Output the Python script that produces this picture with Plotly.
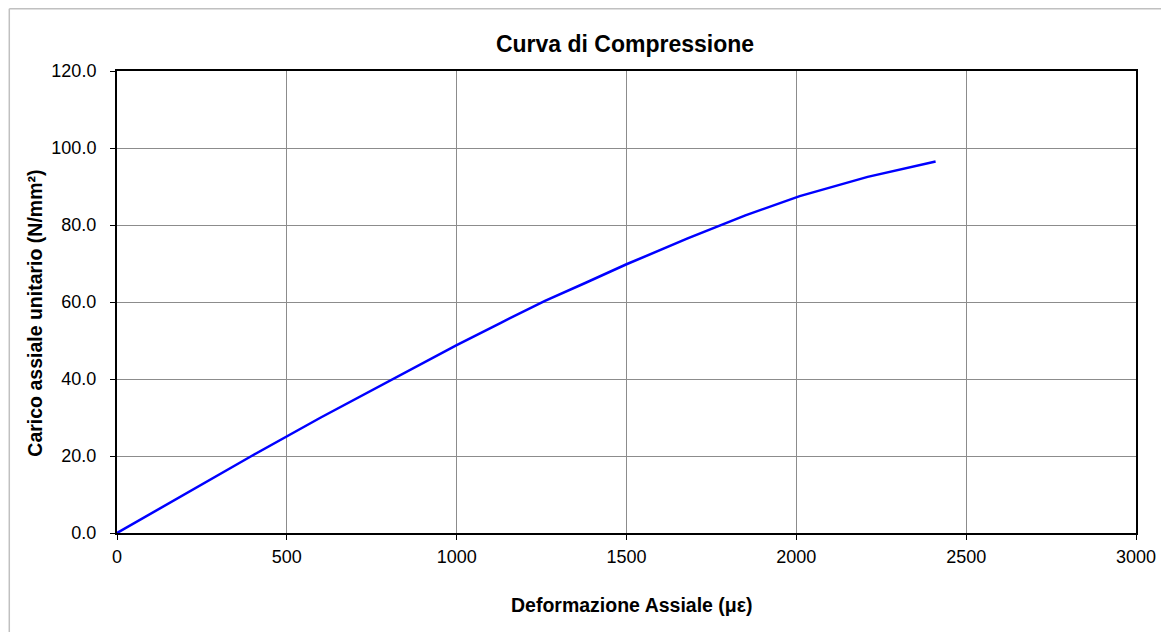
import plotly.graph_objects as go

# strain (microstrain) and stress (N/mm²)
deformazione = [0, 200, 400, 600, 800, 1000, 1130, 1260, 1380, 1500,
                1680, 1850, 2010, 2210, 2410]
carico = [0.0, 10.2, 20.2, 30.0, 39.4, 48.8, 54.6, 60.3, 65.0, 69.8,
          76.5, 82.5, 87.5, 92.5, 96.5]

x_ticks = [0, 500, 1000, 1500, 2000, 2500, 3000]
y_ticks = [0, 20, 40, 60, 80, 100, 120]

font_family = "Liberation Sans, Arial, sans-serif"

fig = go.Figure()

fig.add_trace(go.Scatter(
    x=deformazione,
    y=carico,
    mode="lines",
    line=dict(color="#0000ff", width=2.5),
    showlegend=False
))

axis_common = dict(
    showline=True,
    linecolor="black",
    linewidth=2,
    mirror=True,
    showgrid=True,
    gridcolor="#8c8c8c",
    gridwidth=1,
    zeroline=False,
    automargin=False,
    ticks="outside",
    ticklen=5,
    tickcolor="black",
    tickfont=dict(family=font_family, size=18, color="black"),
)

fig.update_xaxes(range=[0, 3000], tickvals=x_ticks,
                 ticklabelstandoff=1, **axis_common)
fig.update_yaxes(range=[0, 120], tickvals=y_ticks, tickformat=".1f",
                 ticklabelstandoff=10, **axis_common)

# axis titles placed as annotations
fig.add_annotation(
    text="<b>Deformazione Assiale (με)</b>",
    xref="paper", yref="paper", x=0.5056, y=-0.1558,
    xanchor="center", yanchor="middle", showarrow=False,
    font=dict(family=font_family, size=19.5, color="black")
)
fig.add_annotation(
    text="<b>Carico assiale unitario (N/mm²)</b>",
    xref="paper", yref="paper", x=-0.0799, y=0.476,
    xanchor="center", yanchor="middle", showarrow=False, textangle=-90,
    font=dict(family=font_family, size=19.5, color="black")
)

# light outer frame of the chart area: only the left and top edges show
frame = dict(color="#c0c0c0", width=1.5)
fig.add_shape(type="line", xref="paper", yref="paper",
              x0=-0.1057, x1=-0.1057, y0=-0.3, y1=1.1348,
              line=frame, layer="below")
fig.add_shape(type="line", xref="paper", yref="paper",
              x0=-0.1057, x1=1.2, y0=1.1348, y1=1.1348,
              line=frame, layer="below")

fig.update_layout(
    title=dict(text="<b>Curva di Compressione</b>",
               font=dict(family=font_family, size=23, color="black"),
               x=0.5351, xanchor="center", y=0.9423, yanchor="middle"),
    width=1153,
    height=624,
    margin=dict(l=108.5, r=25, t=63, b=99, autoexpand=False),
    plot_bgcolor="white",
    paper_bgcolor="white",
)

fig.write_html("out.html")
